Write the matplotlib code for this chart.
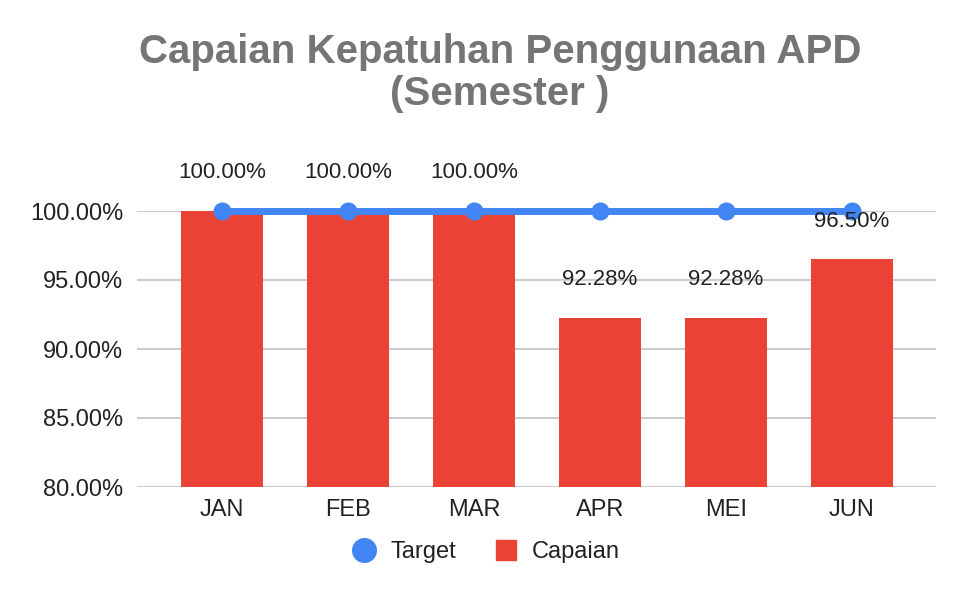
import matplotlib
matplotlib.use("Agg")
import matplotlib.pyplot as plt
from matplotlib.lines import Line2D

months = ["JAN", "FEB", "MAR", "APR", "MEI", "JUN"]
capaian = [100.00, 100.00, 100.00, 92.28, 92.28, 96.50]
target = [100.00, 100.00, 100.00, 100.00, 100.00, 100.00]
yticks = [80, 85, 90, 95, 100]

plt.rcParams['font.family'] = ['Liberation Sans', 'DejaVu Sans']

W, H = 966, 596
fig = plt.figure(figsize=(W / 100, H / 100), dpi=100)
ax = fig.add_axes([137 / W, (H - 487) / H, 799 / W, 276 / H])

red = "#EA4335"
blue = "#4285F4"

x = list(range(len(months)))
ax.bar(x, capaian, width=0.65, color=red, zorder=2)
ax.plot(x, target, color=blue, lw=5, marker="o", markersize=12, zorder=3,
        solid_capstyle="round", clip_on=False)

for xi, v in zip(x, capaian):
    ax.annotate(f"{v:.2f}%", (xi, v), xytext=(0, 38), textcoords="offset pixels",
                ha="center", va="center", fontsize=16, color="#222222", zorder=4)

ax.set_xlim(-0.675, 5.667)
ax.set_ylim(80, 100)
ax.set_yticks(yticks)
ax.set_yticklabels([f"{t:.2f}%" for t in yticks])
ax.set_xticks(x)
ax.set_xticklabels(months)
ax.tick_params(axis="both", length=0, labelsize=17, colors="#222222")
ax.tick_params(axis="y", pad=10)
ax.tick_params(axis="x", pad=9)
ax.grid(axis="y", color="#cccccc", lw=1.5, zorder=0)
ax.set_axisbelow(True)
for s in ax.spines.values():
    s.set_visible(False)

fig.text(500 / W, 1 - 73 / H, "Capaian Kepatuhan Penggunaan APD\n(Semester )",
         ha="center", va="center", fontsize=29, fontweight="bold", color="#757575",
         linespacing=1.15)

handles = [
    Line2D([], [], marker="o", color=blue, lw=0, markersize=17),
    Line2D([], [], marker="s", color=red, lw=0, markersize=14),
]
fig.legend(handles, ["Target", "Capaian"], loc="center", bbox_to_anchor=(486 / W, 1 - 552 / H),
           ncol=2, frameon=False, fontsize=17, handlelength=1.0,
           columnspacing=1.6, handletextpad=0.6, labelcolor="#222222")

fig.savefig("out.png", dpi=100)
